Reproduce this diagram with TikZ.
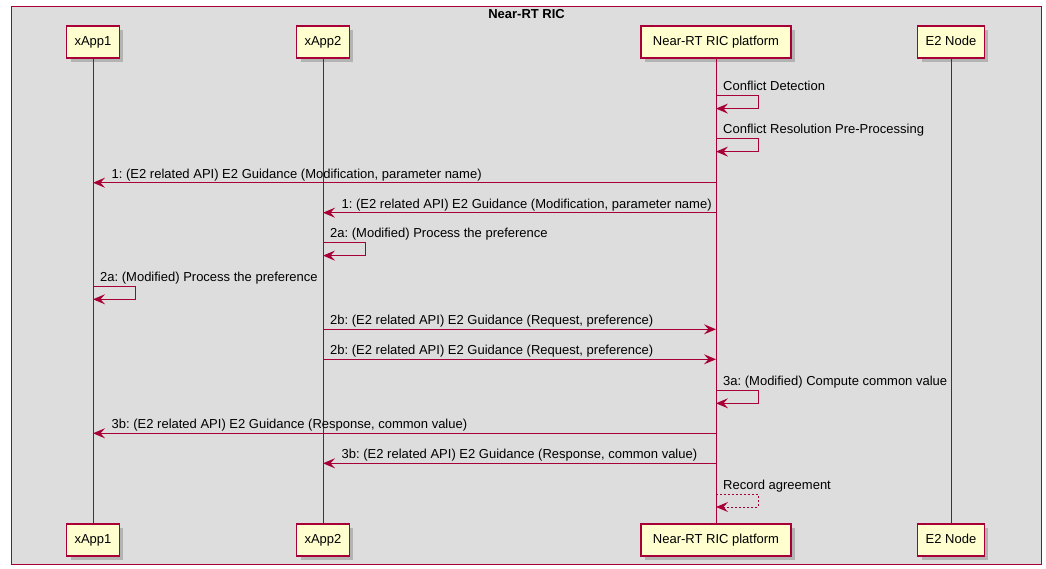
\documentclass[tikz,border=0pt]{standalone}
\usepackage{fontspec}
\setmainfont{Liberation Sans}
\usetikzlibrary{positioning,arrows.meta,shadows}
\definecolor{rim}{HTML}{A80036}
\definecolor{boxfill}{HTML}{FEFECE}
\definecolor{framefill}{HTML}{DDDDDD}
\tikzstyle{part} = [draw=rim, fill=boxfill, line width=1.2pt, minimum height=32pt, inner xsep=8pt, text height=9.5pt, text depth=2.5pt, font=\fontsize{13}{15}\selectfont, drop shadow={shadow xshift=4pt, shadow yshift=-4pt, fill=black!60, opacity=0.35}]
\tikzstyle{arrow} = [draw=rim, line width=1pt, -{Stealth[length=12pt,width=10pt,inset=4.5pt]}]
\tikzstyle{life} = [draw=rim, line width=1pt]
\tikzstyle{lbl} = [inner sep=0pt, font=\fontsize{13}{15}\selectfont]
\frenchspacing

\begin{document}
\begin{tikzpicture}[x=1pt, y=-1pt]
    \useasboundingbox (0,0) rectangle (1046,569);

    \node (ric) [draw=rim, fill=framefill, line width=1.2pt, inner sep=0pt, minimum width=1030pt, minimum height=558pt, anchor=north west] at (11,6) {};
    \node (ricname) [below=3pt of ric.north, inner sep=0pt, font=\bfseries\fontsize{13}{15}\selectfont] {Near-RT RIC};

    % participants, top and bottom
    \node (xa1) [part] at (93,42) {xApp1};
    \node (xa2) [part] at (323,42) {xApp2};
    \node (plat) [part, minimum width=150pt] at (716,42) {Near-RT RIC platform};
    \node (e2n) [part] at (951,42) {E2 Node};

    \node (xa1b) [part] at (93,540) {xApp1};
    \node (xa2b) [part] at (323,540) {xApp2};
    \node (platb) [part, minimum width=150pt] at (716,540) {Near-RT RIC platform};
    \node (e2nb) [part] at (951,540) {E2 Node};

    \draw [life] (xa1) -- (xa1b);
    \draw [life] (xa2) -- (xa2b);
    \draw [life] (plat) -- (platb);
    \draw [life] (e2n) -- (e2nb);

    % conflict detection and pre-processing
    \coordinate (cd1) at (716,96);
    \coordinate (cd2) at (716,108.6);
    \draw [arrow] (cd1) -- ++(42,0) |- (cd2);
    \node (lcd) [lbl, above right=5pt and 7pt of cd1, anchor=base west] {Conflict Detection};

    \coordinate (crp1) at (716,139);
    \coordinate (crp2) at (716,151.6);
    \draw [arrow] (crp1) -- ++(42,0) |- (crp2);
    \node (lcrp) [lbl, above right=5pt and 7pt of crp1, anchor=base west] {Conflict Resolution Pre-Processing};

    % step 1
    \coordinate (m1s) at (716,182.7);
    \coordinate (m1e) at (93,182.7);
    \draw [arrow] (m1s) -- (m1e);
    \node (l1a) [lbl, above right=4.5pt and 18.5pt of m1e, anchor=base west] {1: (E2 related API) E2 Guidance (Modification, parameter name)};

    \coordinate (m2s) at (716,212.7);
    \coordinate (m2e) at (323,212.7);
    \draw [arrow] (m2s) -- (m2e);
    \node (l1b) [lbl, above right=4.5pt and 18.5pt of m2e, anchor=base west] {1: (E2 related API) E2 Guidance (Modification, parameter name)};

    % step 2a
    \coordinate (pa1) at (323,243);
    \coordinate (pa2) at (323,255.6);
    \draw [arrow] (pa1) -- ++(42,0) |- (pa2);
    \node (l2a) [lbl, above right=5pt and 7pt of pa1, anchor=base west] {2a: (Modified) Process the preference};

    \coordinate (pb1) at (93,286.7);
    \coordinate (pb2) at (93,299.3);
    \draw [arrow] (pb1) -- ++(42,0) |- (pb2);
    \node (l2b) [lbl, above right=5pt and 7pt of pb1, anchor=base west] {2a: (Modified) Process the preference};

    % step 2b
    \coordinate (m3s) at (323,329.3);
    \coordinate (m3e) at (716,329.3);
    \draw [arrow] (m3s) -- (m3e);
    \node (l3a) [lbl, above right=4.5pt and 7pt of m3s, anchor=base west] {2b: (E2 related API) E2 Guidance (Request, preference)};

    \coordinate (m4s) at (323,359.3);
    \coordinate (m4e) at (716,359.3);
    \draw [arrow] (m4s) -- (m4e);
    \node (l3b) [lbl, above right=4.5pt and 7pt of m4s, anchor=base west] {2b: (E2 related API) E2 Guidance (Request, preference)};

    % step 3a
    \coordinate (cv1) at (716,390.7);
    \coordinate (cv2) at (716,403.3);
    \draw [arrow] (cv1) -- ++(42,0) |- (cv2);
    \node (lcv) [lbl, above right=5pt and 7pt of cv1, anchor=base west] {3a: (Modified) Compute common value};

    % step 3b
    \coordinate (m5s) at (716,433.3);
    \coordinate (m5e) at (93,433.3);
    \draw [arrow] (m5s) -- (m5e);
    \node (l4a) [lbl, above right=4.5pt and 18.5pt of m5e, anchor=base west] {3b: (E2 related API) E2 Guidance (Response, common value)};

    \coordinate (m6s) at (716,463.3);
    \coordinate (m6e) at (323,463.3);
    \draw [arrow] (m6s) -- (m6e);
    \node (l4b) [lbl, above right=4.5pt and 18.5pt of m6e, anchor=base west] {3b: (E2 related API) E2 Guidance (Response, common value)};

    % record
    \coordinate (ra1) at (716,494.3);
    \coordinate (ra2) at (716,507);
    \draw [arrow, dash pattern=on 2pt off 2pt] (ra1) -- ++(42,0) |- (ra2);
    \node (lra) [lbl, above right=5pt and 7pt of ra1, anchor=base west] {Record agreement};

\end{tikzpicture}
\end{document}
